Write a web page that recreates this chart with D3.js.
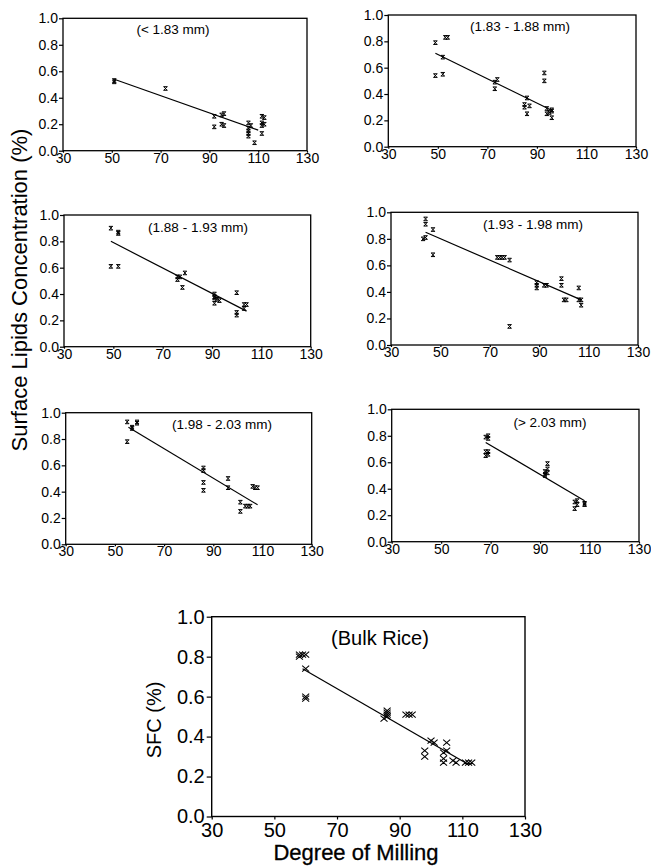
<!DOCTYPE html>
<html><head><meta charset="utf-8">
<script src="https://cdn.jsdelivr.net/npm/d3@7"></script>
<style>body{margin:0;background:#fff} text{font-family:"Liberation Sans",Arial,Helvetica,sans-serif;fill:#000}</style>
</head><body><svg id="c" width="651" height="868"></svg>
<script>
// ---- data ----
const xTicks = [30, 50, 70, 90, 110, 130];
const yTicks = [0.0, 0.2, 0.4, 0.6, 0.8, 1.0];
const panelTitles = ["(< 1.83 mm)", "(1.83 - 1.88 mm)", "(1.88 - 1.93 mm)", "(1.93 - 1.98 mm)", "(1.98 - 2.03 mm)", "(> 2.03 mm)", "(Bulk Rice)"];
const yAxisTitle = "Surface Lipids Concentration (%)";
const bulkYTitle = "SFC (%)";
const bulkXTitle = "Degree of Milling";

const pts1 = [[51,0.52],[51,0.53],[72,0.47],[92,0.26],[92,0.18],[95,0.27],[96,0.28],[95,0.20],[96,0.19],
  [106,0.21],[106,0.17],[106,0.15],[106,0.13],[106,0.11],[107,0.19],[108.5,0.06],[111.5,0.26],[112.5,0.25],
  [111.5,0.21],[112.5,0.20],[111.5,0.19],[111.5,0.13]];
const pts2 = [[49,0.79],[53,0.83],[54,0.83],[52,0.68],[49,0.54],[52,0.55],[73,0.49],[74,0.51],[73,0.44],
  [86,0.37],[85,0.32],[85,0.30],[86,0.25],[87,0.31],[93,0.56],[93,0.50],[94,0.29],[94,0.25],[96,0.27],
  [96,0.28],[95,0.26],[96,0.22]];
const pts3 = [[49,0.90],[52,0.87],[52,0.86],[49,0.61],[52,0.61],[76,0.53],[77,0.53],[76,0.51],[79,0.56],
  [78,0.45],[91,0.40],[91,0.37],[91,0.38],[91,0.33],[92,0.36],[93,0.35],[100,0.41],[100,0.26],[100,0.24],
  [103,0.32],[104,0.32],[103,0.29]];
const pts4 = [[44,0.95],[44,0.91],[44,0.81],[43,0.80],[47,0.87],[47,0.68],[73,0.66],[74,0.66],[75,0.66],
  [76,0.66],[78,0.64],[78,0.14],[89,0.47],[89,0.43],[89,0.45],[93,0.45],[92,0.45],[99,0.50],[99,0.45],
  [101,0.34],[100,0.34],[106,0.43],[106,0.34],[107,0.34],[107,0.30]];
const pts5 = [[55,0.93],[55,0.78],[57,0.89],[57,0.88],[59,0.93],[59,0.92],[86,0.58],[86,0.56],[86,0.47],
  [86,0.41],[96,0.50],[96,0.43],[101,0.32],[101,0.25],[103,0.29],[104,0.29],[105,0.29],[106,0.44],
  [107,0.43],[108,0.43]];
const pts6 = [[68,0.79],[69,0.80],[69,0.78],[68,0.68],[69,0.68],[68,0.65],[69,0.66],[93,0.59],[92,0.53],
  [93,0.55],[92,0.50],[93,0.52],[92,0.51],[104,0.30],[104,0.25],[105,0.28],[105,0.31],[108,0.29],[108,0.28]];
const ptsBulk = [[58,0.81],[59,0.81],[60,0.81],[58,0.80],[60,0.74],[60,0.59],[60,0.60],[86,0.53],[86,0.52],
  [86,0.50],[86,0.51],[85,0.49],[93,0.51],[92,0.51],[94,0.51],[98,0.33],[98,0.30],[100,0.38],[101,0.37],
  [104,0.29],[104,0.27],[105,0.37],[105,0.33],[104,0.32],[107,0.28],[108,0.27],[112,0.27],[111,0.27],[113,0.27]];

const fit1 = [[51,0.54],[110,0.155]];
const fit2 = [[49,0.71],[95.5,0.28]];
const fit3 = [[49,0.80],[104,0.27]];
const fit4 = [[44,0.85],[107,0.34]];
const fit5 = [[55.5,0.89],[108,0.30]];
const fit6 = [[68,0.75],[108,0.31]];
const fitBulk = [[59,0.74],[112,0.26]];

const allPts = [pts1, pts2, pts3, pts4, pts5, pts6, ptsBulk];
const allFits = [fit1, fit2, fit3, fit4, fit5, fit6, fitBulk];

// ---- layout ----
const layout = [
  {l:63, t:18.3, r:307, b:150.7, tx:173, ty:34, big:false},
  {l:388.3, t:15, r:636, b:146.7, tx:520, ty:31, big:false},
  {l:64, t:215, r:310.7, b:346.7, tx:198, ty:232, big:false},
  {l:391, t:212.3, r:638, b:345, tx:533, ty:229, big:false},
  {l:65.7, t:412.7, r:311.7, b:544.3, tx:222, ty:429, big:false},
  {l:391.7, t:409.3, r:639, b:541.7, tx:550, ty:427, big:false},
  {l:211.7, t:616.7, r:525, b:816.5, tx:380, ty:645, big:true}
];

const svg = d3.select("#c");

layout.forEach((L, i) => {
  const x = d3.scaleLinear().domain([30,130]).range([L.l, L.r]);
  const y = d3.scaleLinear().domain([0,1]).range([L.b, L.t]);
  const g = svg.append("g");
  const fs = L.big ? 20 : 14;

  g.append("rect").attr("x", L.l).attr("y", L.t).attr("width", L.r - L.l).attr("height", L.b - L.t)
    .attr("fill", "none").attr("stroke", "#000").attr("stroke-width", L.big ? 1.4 : 1.3);

  const ya = g.append("g").attr("transform", `translate(${L.l},0)`)
    .call(d3.axisLeft(y).tickValues(yTicks).tickFormat(d3.format(".1f"))
      .tickSize(L.big ? 5 : 4).tickPadding(L.big ? 2 : 1));
  const xa = g.append("g").attr("transform", `translate(0,${L.b})`)
    .call(d3.axisBottom(x).tickValues(xTicks).tickFormat(d3.format("d"))
      .tickSize(L.big ? 3 : 2).tickPadding(L.big ? 3 : 0));
  [ya, xa].forEach(a => {
    a.select(".domain").remove();
    a.selectAll("line").attr("stroke", "#000").attr("stroke-width", 1.2);
    a.selectAll("text").attr("font-size", fs).attr("font-family", "'Liberation Sans',Arial,sans-serif").attr("fill", "#000");
  });

  g.append("text").attr("x", L.tx).attr("y", L.ty).attr("text-anchor", "middle")
    .attr("font-size", L.big ? 20 : 13.5).text(panelTitles[i]);

  const line = d3.line().x(d => x(d[0])).y(d => y(d[1]));
  g.append("path").attr("d", line(allFits[i])).attr("fill", "none").attr("stroke", "#000").attr("stroke-width", 1.2);

  const mk = L.big ? "M-3.5,-3L3.5,3M3.5,-3L-3.5,3" : "M-2,-1.8H2M-2,1.8H2M-1.6,-1.8L1.6,1.8M1.6,-1.8L-1.6,1.8";
  g.selectAll("path.pt").data(allPts[i]).enter().append("path").attr("class", "pt")
    .attr("transform", d => `translate(${x(d[0])},${y(d[1])})`)
    .attr("d", mk).attr("fill", "none").attr("stroke", "#000").attr("stroke-width", L.big ? 1.1 : 1);
});

svg.append("text").attr("transform", "translate(27,290) rotate(-90)").attr("text-anchor", "middle")
  .attr("font-size", 22).text(yAxisTitle);
svg.append("text").attr("transform", "translate(161,720) rotate(-90)").attr("text-anchor", "middle")
  .attr("font-size", 20).text(bulkYTitle);
svg.append("text").attr("x", 356).attr("y", 860).attr("text-anchor", "middle")
  .attr("font-size", 22).attr("stroke", "#000").attr("stroke-width", 0.3).text(bulkXTitle);
</script></body></html>
